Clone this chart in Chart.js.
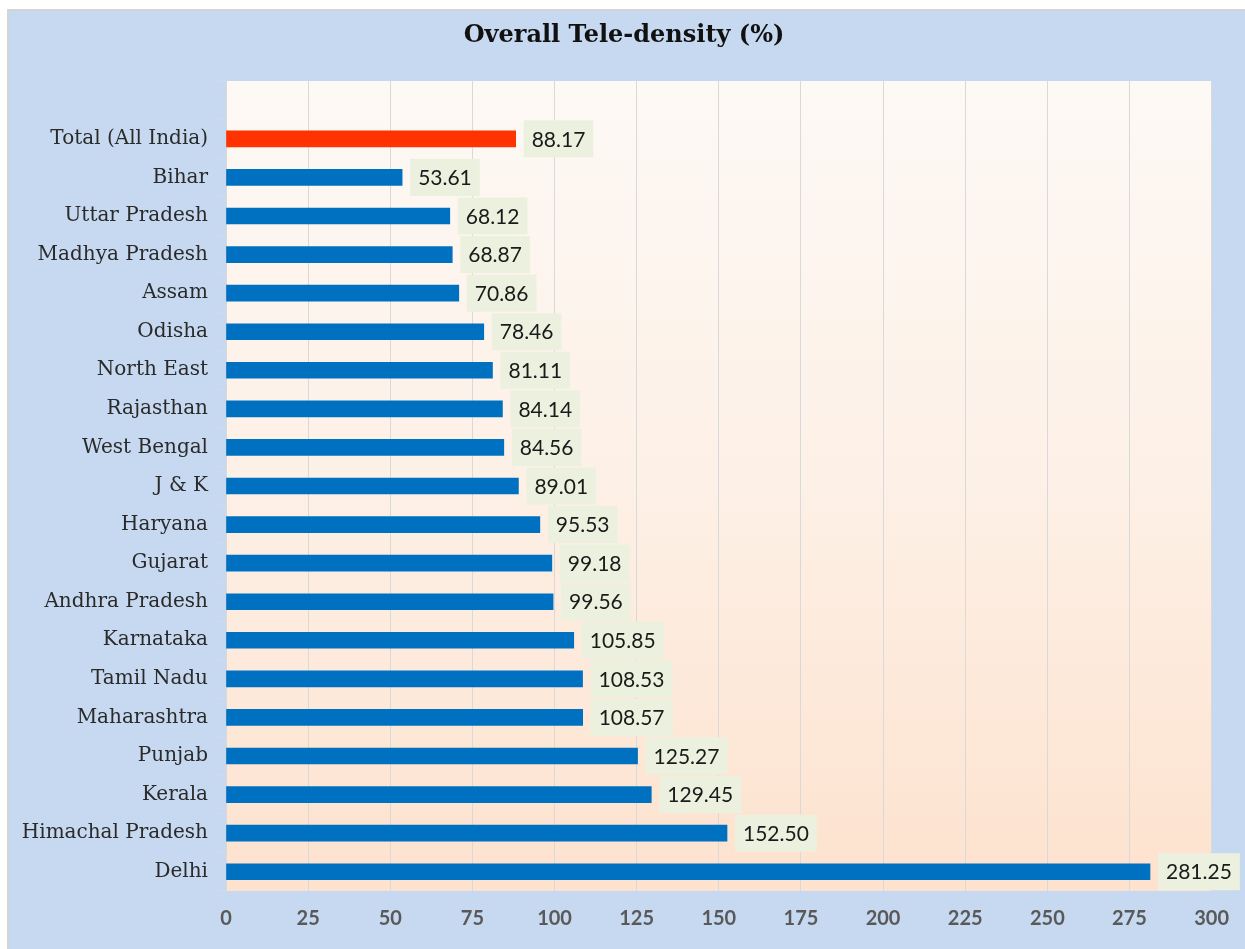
<!DOCTYPE html>
<html>
<head>
<meta charset="utf-8">
<script src="https://cdn.jsdelivr.net/npm/chart.js@4"></script>
<style>
  html, body { margin: 0; padding: 0; background: #fff; }
  #wrap { width: 1245px; height: 949px; }
</style>
</head>
<body>
<div id="wrap"><canvas id="teleChart" width="1245" height="949"></canvas></div>
<script>
// blank first slot keeps the empty row above "Total" like in the original
const states = ["", "Total (All India)", "Bihar", "Uttar Pradesh", "Madhya Pradesh", "Assam", "Odisha",
    "North East", "Rajasthan", "West Bengal", "J & K", "Haryana", "Gujarat", "Andhra Pradesh",
    "Karnataka", "Tamil Nadu", "Maharashtra", "Punjab", "Kerala", "Himachal Pradesh", "Delhi"];
const teleDensity = [null, 88.17, 53.61, 68.12, 68.87, 70.86, 78.46, 81.11, 84.14, 84.56, 89.01,
    95.53, 99.18, 99.56, 105.85, 108.53, 108.57, 125.27, 129.45, 152.50, 281.25];
const xTicks = [0, 25, 50, 75, 100, 125, 150, 175, 200, 225, 250, 275, 300];
const chartTitle = "Overall Tele-density (%)";

const barColors = states.map(s => s.startsWith("Total") ? "#FF3300" : "#0070C0");

// panel + plot area fill, title centred on the whole panel
const backdrop = {
    id: "backdrop",
    beforeDraw(chart) {
        const ctx = chart.ctx;
        const a = chart.chartArea;
        ctx.save();
        ctx.fillStyle = "#D4D4D4";
        ctx.fillRect(7, 9, chart.width, chart.height);
        ctx.fillStyle = "#C6D9F0";
        ctx.fillRect(9, 11, chart.width, chart.height);
        const g = ctx.createLinearGradient(0, a.top, 0, a.bottom);
        g.addColorStop(0, "#FDF9F5");
        g.addColorStop(0.5, "#FDF0E6");
        g.addColorStop(1, "#FDE2CE");
        ctx.fillStyle = g;
        ctx.fillRect(a.left, a.top, a.right - a.left, a.bottom - a.top);

        ctx.fillStyle = "#111";
        ctx.font = "bold 24px 'DejaVu Serif'";
        ctx.textAlign = "center";
        ctx.textBaseline = "middle";
        ctx.fillText(chartTitle, 624, 36);
        ctx.restore();
    }
};

// value boxes to the right of each bar
const valueBoxes = {
    id: "valueBoxes",
    afterDatasetsDraw(chart) {
        const ctx = chart.ctx;
        const meta = chart.getDatasetMeta(0);
        ctx.save();
        ctx.font = "21px Lato";
        ctx.textBaseline = "middle";
        meta.data.forEach((bar, i) => {
            const v = teleDensity[i];
            if (v == null) return;
            const txt = v.toFixed(2);
            const w = ctx.measureText(txt).width + 16;
            const x = bar.x + 8;
            ctx.fillStyle = "#EBF1DE";
            ctx.fillRect(x, bar.y - 18.5, w, 37);
            ctx.fillStyle = "#1A1A1A";
            ctx.fillText(txt, x + 8, bar.y + 1);
        });
        ctx.restore();
    }
};

new Chart(document.getElementById("teleChart"), {
    type: "bar",
    data: {
        labels: states,
        datasets: [{
            label: chartTitle,
            data: teleDensity,
            backgroundColor: barColors,
            barThickness: 16
        }]
    },
    options: {
        indexAxis: "y",
        responsive: false,
        animation: false,
        layout: { padding: { left: 10, right: 32, top: 81, bottom: 0 } },
        plugins: {
            legend: { display: false },
            tooltip: { enabled: false },
            title: { display: false }
        },
        scales: {
            x: {
                min: 0,
                max: 300,
                afterBuildTicks(scale) { scale.ticks = xTicks.map(v => ({ value: v })); },
                afterFit(scale) { scale.height = 58; },
                grid: { color: "#D9D9D9", drawTicks: false },
                border: { display: false },
                ticks: {
                    padding: 16,
                    color: "#595959",
                    font: { family: "Lato", size: 20, weight: "bold" }
                }
            },
            y: {
                afterFit(scale) { scale.width = 216; },
                grid: { color: "#D9D9D9", drawOnChartArea: false, tickLength: 8, offset: true },
                border: { display: false },
                ticks: {
                    padding: 10,
                    color: "#2A2A2A",
                    font: { family: "DejaVu Serif", size: 20 }
                }
            }
        }
    },
    plugins: [backdrop, valueBoxes]
});
</script>
</body>
</html>
